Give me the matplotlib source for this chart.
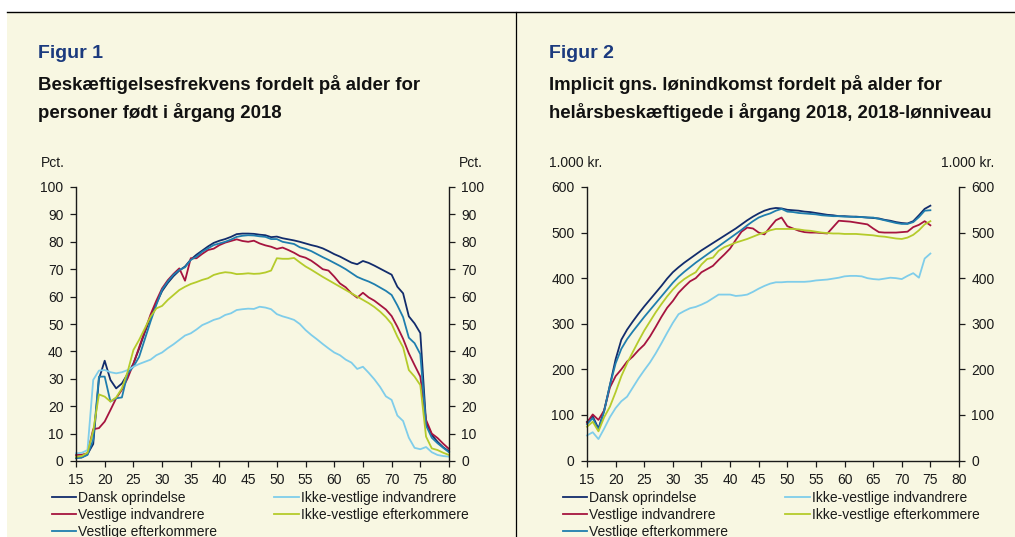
import matplotlib
matplotlib.use("Agg")
import matplotlib.pyplot as plt
from matplotlib.patches import Rectangle
from matplotlib.lines import Line2D

plt.rcParams['font.family'] = ['Liberation Sans', 'DejaVu Sans']

# ---------------- data ----------------
ages_l = list(range(15, 81))
ages_r = list(range(15, 76))

labels = ["Dansk oprindelse", "Vestlige indvandrere", "Vestlige efterkommere",
          "Ikke-vestlige indvandrere", "Ikke-vestlige efterkommere"]
colors = ["#122C6C", "#A6143F", "#1F7EAE", "#7FCDEA", "#B5CB2B"]

# Figur 1: employment rate (pct.), ages 15-80
dansk_l = [1.2, 1.3, 2.5, 6.2, 30.0, 36.6, 29.6, 26.5, 28.3, 31.8,
           35.5, 41.0, 47.0, 52.5, 57.5, 62.0, 65.0, 67.5, 69.5, 71.0,
           73.5, 75.3, 76.8, 78.3, 79.6, 80.4, 81.0, 81.8, 82.8, 83.0,
           83.0, 82.9, 82.6, 82.4, 81.7, 81.9, 81.3, 80.9, 80.5, 80.0,
           79.4, 78.8, 78.3, 77.6, 76.6, 75.5, 74.6, 73.5, 72.4, 71.8,
           73.0, 72.3, 71.3, 70.2, 69.1, 68.0, 63.6, 61.2, 52.8, 50.2,
           46.7, 14.0, 9.5, 7.0, 5.0, 3.5]
vest_indv_l = [2.2, 2.3, 2.8, 11.6, 12.0, 14.4, 18.6, 22.9, 26.0, 30.2,
               35.5, 41.5, 47.5, 53.5, 58.5, 63.0, 66.0, 68.3, 70.3, 65.8,
               74.0, 74.0, 75.6, 77.0, 77.5, 78.8, 79.7, 80.3, 80.9, 80.3,
               80.0, 80.4, 79.4, 78.7, 78.2, 77.4, 77.9, 77.0, 76.0, 74.8,
               74.2, 73.1, 71.6, 70.0, 69.5, 67.3, 64.8, 63.4, 61.2, 59.6,
               61.4, 59.7, 58.5, 56.9, 55.3, 52.9, 49.0, 44.6, 39.3, 35.0,
               30.8, 15.0, 10.0, 8.4, 6.3, 4.4]
vest_efterk_l = [1.0, 1.3, 2.2, 7.7, 30.8, 30.8, 21.7, 22.9, 23.2, 32.0,
                 34.4, 38.0, 44.5, 51.0, 57.0, 62.5, 65.5, 68.0, 69.7, 70.7,
                 73.4, 74.6, 76.4, 77.6, 78.8, 79.4, 80.0, 80.8, 81.8, 82.2,
                 82.4, 82.3, 82.0, 81.8, 81.0, 81.0, 80.0, 79.6, 79.2, 78.0,
                 77.4, 76.6, 75.5, 74.4, 73.4, 72.3, 71.2, 70.0, 68.6, 67.2,
                 66.3, 65.5, 64.5, 63.3, 62.1, 60.6, 56.8, 52.5, 45.0, 43.0,
                 39.0, 13.0, 8.5, 6.5, 4.8, 3.2]
ikke_indv_l = [2.8, 3.0, 4.0, 29.6, 33.0, 33.2, 32.4, 32.0, 32.4, 33.2,
               34.4, 35.4, 36.2, 37.0, 38.6, 39.6, 41.2, 42.6, 44.2, 45.8,
               46.6, 48.0, 49.6, 50.5, 51.5, 52.1, 53.3, 53.9, 55.1, 55.4,
               55.6, 55.5, 56.3, 56.0, 55.4, 53.6, 52.8, 52.2, 51.5, 50.0,
               47.8, 46.0, 44.4, 42.7, 41.1, 39.6, 38.6, 37.0, 35.9, 33.6,
               34.4, 32.2, 29.8, 27.0, 23.6, 22.3, 16.6, 14.6, 8.5, 4.8,
               4.3, 5.1, 3.2, 2.2, 1.8, 1.6]
ikke_efterk_l = [1.5, 1.8, 3.0, 11.0, 24.3, 23.5, 21.7, 23.2, 26.5, 32.6,
                 40.5, 44.2, 48.4, 52.7, 55.7, 56.6, 58.8, 60.6, 62.4, 63.6,
                 64.6, 65.3, 66.1, 66.7, 67.9, 68.5, 68.9, 68.7, 68.2, 68.3,
                 68.5, 68.3, 68.4, 68.8, 69.5, 74.0, 73.8, 73.8, 74.1, 72.5,
                 71.0, 69.8, 68.5, 67.2, 66.0, 64.8, 63.6, 62.4, 61.2, 60.0,
                 58.8, 57.6, 56.2, 54.5, 52.5, 50.0, 45.4, 41.5, 33.2, 30.8,
                 27.7, 8.9, 4.6, 4.0, 3.0, 2.2]

# Figur 2: implicit average wage income (1.000 kr.), ages 15-75
dansk_r = [85, 97, 70, 110, 165, 222, 265, 287, 305, 322,
           338, 353, 368, 383, 399, 413, 424, 434, 443, 452,
           461, 469, 477, 485, 493, 501, 509, 518, 527, 535,
           542, 548, 552, 554, 553, 550, 549, 548, 546, 545,
           543, 541, 539, 538, 536, 536, 535, 535, 534, 533,
           532, 531, 528, 526, 523, 521, 520, 525, 538, 552, 559]
vest_indv_r = [83, 101, 89, 110, 160, 185, 200, 217, 228, 242,
               254, 272, 293, 315, 335, 350, 368, 381, 393, 400,
               413, 420, 427, 440, 452, 465, 484, 502, 511, 509,
               500, 496, 512, 527, 533, 514, 509, 504, 501, 500,
               500, 499, 498, 512, 526, 525, 524, 522, 520, 518,
               509, 501, 500, 500, 500, 501, 502, 512, 517, 525, 516]
vest_efterk_r = [80, 93, 67, 108, 165, 213, 245, 266, 283, 299,
                 315, 330, 345, 360, 375, 390, 403, 414, 424, 434,
                 443, 452, 461, 470, 479, 488, 497, 506, 516, 525,
                 533, 538, 542, 548, 552, 546, 545, 543, 542, 541,
                 540, 538, 537, 536, 536, 535, 535, 534, 534, 533,
                 533, 530, 527, 524, 521, 519, 519, 523, 534, 548, 549]
ikke_indv_r = [55, 62, 47, 70, 95, 115, 130, 140, 160, 180,
               198, 215, 235, 257, 280, 302, 321, 328, 334, 337,
               342, 348, 356, 364, 364, 364, 361, 362, 364, 370,
               377, 383, 388, 391, 391, 392, 392, 392, 392, 393,
               395, 396, 397, 399, 401, 404, 405, 405, 404, 400,
               398, 397, 399, 401, 400, 398, 405, 411, 401, 443, 454]
ikke_efterk_r = [74, 85, 64, 95, 118, 150, 185, 213, 238, 262,
                 285, 305, 325, 343, 360, 375, 388, 398, 406, 413,
                 430, 442, 445, 460, 468, 473, 478, 482, 486, 491,
                 496, 500, 505, 508, 508, 508, 508, 507, 505, 504,
                 502, 500, 499, 498, 498, 497, 497, 497, 496, 495,
                 494, 492, 491, 489, 487, 486, 489, 495, 505, 518, 525]

series_l = [dansk_l, vest_indv_l, vest_efterk_l, ikke_indv_l, ikke_efterk_l]
series_r = [dansk_r, vest_indv_r, vest_efterk_r, ikke_indv_r, ikke_efterk_r]

x_ticks = list(range(15, 81, 5))
y_ticks_l = list(range(0, 101, 10))
y_ticks_r = list(range(0, 601, 100))

# ---------------- figure ----------------
W, H = 1015, 537
fig = plt.figure(figsize=(W / 100, H / 100), dpi=100, facecolor="white")

cream = "#F8F7E2"
fig.add_artist(Rectangle((7 / W, 0), (W - 7) / W, (H - 12) / H,
                         transform=fig.transFigure, facecolor=cream,
                         edgecolor="none", zorder=-10))
fig.add_artist(Line2D([7 / W, 1], [1 - 12 / H, 1 - 12 / H],
                      transform=fig.transFigure, color="black", lw=1.0))
fig.add_artist(Line2D([516 / W, 516 / W], [0, 1 - 12 / H],
                      transform=fig.transFigure, color="black", lw=0.9))


def fx(px):
    return px / W


def fy(py):
    return 1 - py / H


def make_axes(x0, x1, y_top, y_bot, ymax, yticks, series, ages):
    ax = fig.add_axes([fx(x0), fy(y_bot), (x1 - x0) / W, (y_bot - y_top) / H])
    ax.set_facecolor("none")
    handles = []
    for vals, col, lab in zip(series, colors, labels):
        h, = ax.plot(ages, vals, color=col, lw=1.3, label=lab, clip_on=False)
        handles.append(h)
    ax.set_xlim(15, 80)
    ax.set_ylim(0, ymax)
    ax.set_xticks(x_ticks)
    ax.set_yticks(yticks)
    ax.spines["top"].set_visible(False)
    for s in ["left", "right", "bottom"]:
        ax.spines[s].set_linewidth(1.0)
        ax.spines[s].set_color("#1a1a1a")
    ax.tick_params(axis="both", direction="out", length=4, width=0.9,
                   color="#1a1a1a", labelsize=10, labelcolor="#1a1a1a")
    ax.tick_params(axis="y", left=True, right=True, labelleft=True,
                   labelright=True, pad=5)
    ax.tick_params(axis="x", pad=5)
    return ax, handles


axL, hL = make_axes(76, 449, 187, 461, 100, y_ticks_l, series_l, ages_l)
axR, hR = make_axes(587, 959, 187, 460.5, 600, y_ticks_r, series_r, ages_r)

# headings
navy_head = "#1B3A7E"
fig.text(fx(38), fy(54), "Figur 1", fontsize=14, fontweight="bold",
         color=navy_head, va="center", ha="left")
fig.text(fx(38), fy(85), "Beskæftigelsesfrekvens fordelt på alder for",
         fontsize=13.4, fontweight="bold", color="#111111", va="center")
fig.text(fx(38), fy(112), "personer født i årgang 2018",
         fontsize=13.4, fontweight="bold", color="#111111", va="center")

fig.text(fx(549), fy(54), "Figur 2", fontsize=14, fontweight="bold",
         color=navy_head, va="center", ha="left")
fig.text(fx(549), fy(85), "Implicit gns. lønindkomst fordelt på alder for",
         fontsize=13.4, fontweight="bold", color="#111111", va="center")
fig.text(fx(549), fy(112), "helårsbeskæftigede i årgang 2018, 2018-lønniveau",
         fontsize=13.4, fontweight="bold", color="#111111", va="center")

# units
fig.text(fx(41), fy(163), "Pct.", fontsize=10, color="#1a1a1a", va="center")
fig.text(fx(483), fy(163), "Pct.", fontsize=10, color="#1a1a1a",
         va="center", ha="right")
fig.text(fx(549), fy(163), "1.000 kr.", fontsize=10, color="#1a1a1a",
         va="center")
fig.text(fx(994), fy(163), "1.000 kr.", fontsize=10, color="#1a1a1a",
         va="center", ha="right")

# legends
for handles, x0 in [(hL, 52), (hR, 563)]:
    fig.legend(handles=handles, labels=labels, loc="upper left",
               bbox_to_anchor=(fx(x0), fy(491)), ncol=2, frameon=False,
               fontsize=10, handlelength=1.75, handletextpad=0.15,
               columnspacing=4.1, labelspacing=0.2, borderpad=0,
               borderaxespad=0, labelcolor="#1a1a1a")

fig.savefig("out.png", dpi=100, facecolor="white")
